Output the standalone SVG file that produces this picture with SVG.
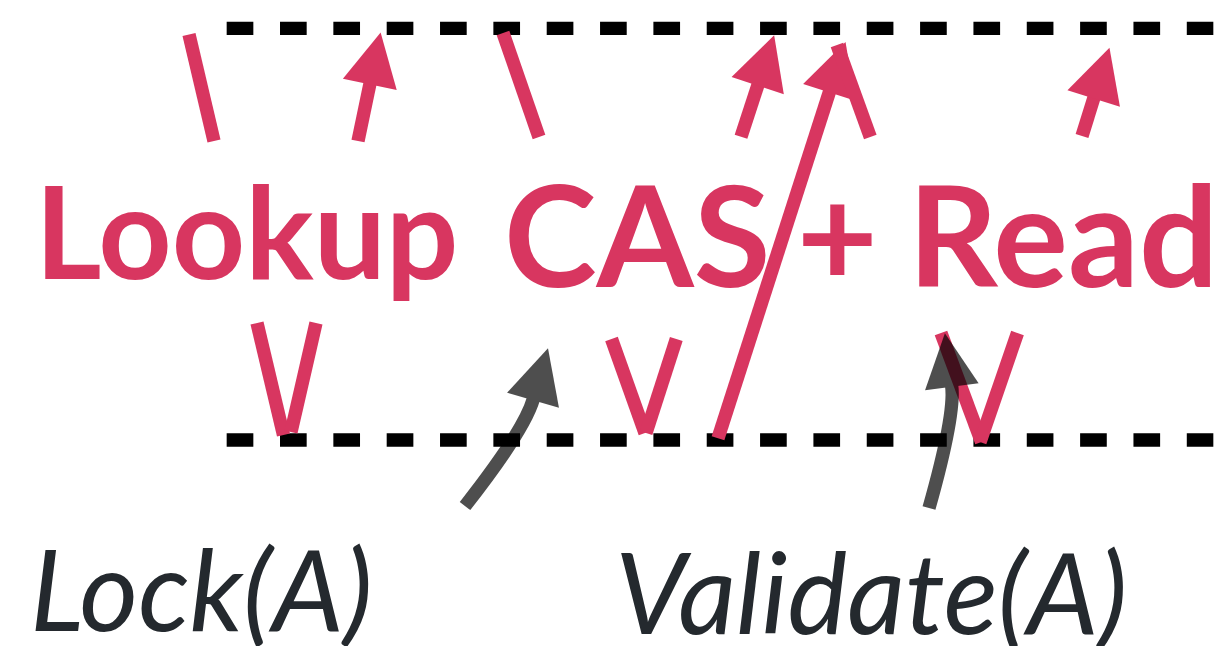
<svg xmlns="http://www.w3.org/2000/svg" width="1230" height="646" viewBox="0 0 1230 646">
  <style>
    .rail { fill: none; stroke: #000; stroke-width: 13.33; stroke-dasharray: 26.67 26.67; }
    .wire { fill: none; stroke: #d83660; stroke-width: 13.33; stroke-linecap: butt; }
    .wire-up { marker-end: url(#head-pink); }
    .pointer { fill: none; stroke: #000; stroke-width: 13.33; stroke-linecap: butt; marker-end: url(#head-dark); }
    .title { font-family: Lato, "Liberation Sans", sans-serif; font-weight: 700; fill: #d83660; }
    .note { font-family: Lato, "Liberation Sans", sans-serif; font-style: italic; font-weight: 400; font-size: 113px; fill: #24292e; }
  </style>
  <defs>
    <marker id="head-pink" markerUnits="userSpaceOnUse" markerWidth="60" markerHeight="60" refX="1" refY="27.5" orient="auto" overflow="visible">
      <path d="M0,0 L53,27.5 L0,55 Z" fill="#d83660"/>
    </marker>
    <marker id="head-dark" markerUnits="userSpaceOnUse" markerWidth="60" markerHeight="60" refX="1" refY="27" orient="auto" overflow="visible">
      <path d="M0,0 L54,27 L0,54 Z" fill="#000"/>
    </marker>
  </defs>

  <!-- dashed rails -->
  <g id="rails">
    <line class="rail" x1="226.67" y1="28.33" x2="1213.33" y2="28.33"/>
    <line class="rail" x1="226.67" y1="440" x2="1213.33" y2="440"/>
  </g>

  <!-- main labels -->
  <g id="label-lookup">
    <text class="title" x="35" y="279" font-size="128">Lookup</text>
  </g>
  <g id="label-cas-read">
    <text class="title" x="504" y="287" font-size="140">CAS<tspan dx="-8"> +</tspan><tspan dx="-4"> Read</tspan></text>
  </g>

  <g id="connectors">
    <!-- first zigzag -->
    <line class="wire" x1="189" y1="34.5" x2="214" y2="141"/>
    <line class="wire" x1="257" y1="323" x2="283.5" y2="435"/>
    <line class="wire" x1="316" y1="323" x2="291" y2="432"/>
    <line class="wire wire-up" x1="358" y1="141" x2="370" y2="83.5"/>
    <!-- second zigzag -->
    <line class="wire" x1="503" y1="33" x2="539" y2="137"/>
    <line class="wire" x1="611.5" y1="339" x2="645" y2="433"/>
    <line class="wire" x1="676.3" y1="339" x2="646" y2="433"/>
    <line class="wire wire-up" x1="741" y1="136.7" x2="758" y2="84.7"/>
    <!-- long rising stroke -->
    <line class="wire wire-up" x1="718" y1="438.3" x2="829.6" y2="91.4"/>
    <!-- third zigzag -->
    <line class="wire" x1="837" y1="45" x2="870.3" y2="137"/>
    <line class="wire" x1="941" y1="333" x2="981.5" y2="442"/>
    <line class="wire" x1="1017.5" y1="333" x2="980" y2="442"/>
    <line class="wire wire-up" x1="1082" y1="136" x2="1094" y2="97.5"/>

    <!-- callout pointers -->
    <g opacity="0.69">
      <path class="pointer" d="M465,506 Q524.3,430.4 533.3,399.2"/>
    </g>
    <g opacity="0.69">
      <path class="pointer" d="M929,508 Q955.4,414.4 951.7,385.8"/>
    </g>
  </g>

  <g id="label-lock">
    <text class="note" x="30" y="631">Lock(A)</text>
  </g>
  <g id="label-validate">
    <text class="note" x="615" y="634">Validate(A)</text>
  </g>
</svg>
